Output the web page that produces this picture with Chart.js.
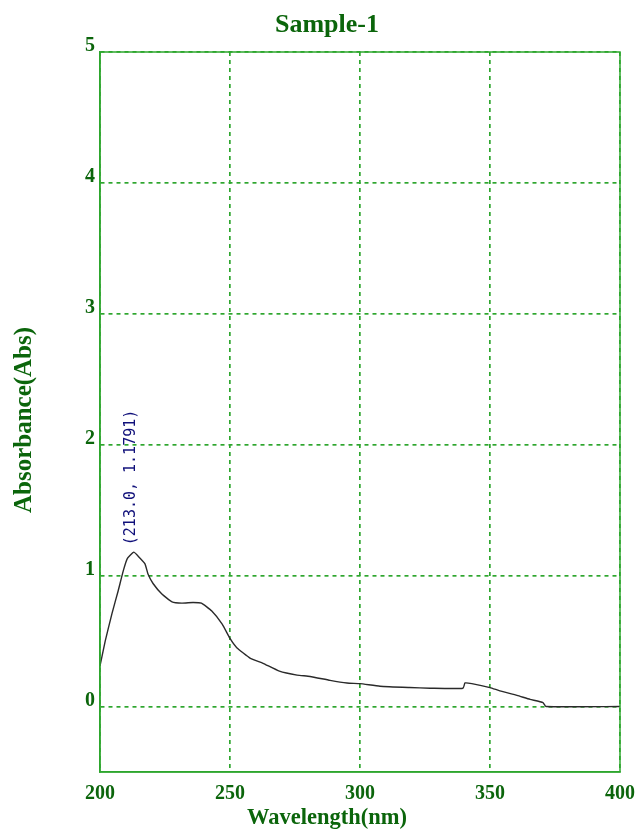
<!DOCTYPE html>
<html>
<head>
<meta charset="utf-8">
<title>Sample-1</title>
<script src="https://cdn.jsdelivr.net/npm/chart.js@4/dist/chart.umd.min.js"></script>
<style>
    html, body { margin: 0; padding: 0; background: #fff; }
    #wrap { width: 638px; height: 831px; position: relative; }
</style>
</head>
<body>
<div id="wrap"><canvas id="spectrum"></canvas></div>
<script>
// Spectrum (nm, Abs)
const wavelengths = [200, 202, 204.6, 207, 209, 210.5, 213, 214.6, 217.3, 218.5, 220.4, 223.8,
    227.7, 231.5, 235.8, 239, 243, 247, 250, 252.6, 257.7, 262.7, 269, 275.8, 280.8,
    288.5, 295, 300, 307.7, 319, 327, 339.6, 340.4, 343, 350, 353.8, 360.4, 365.4, 370.4,
    371.5, 400];
const absorbance = [0.31, 0.50, 0.71, 0.885, 1.04, 1.13, 1.1791, 1.15, 1.09, 1.01, 0.94, 0.86,
    0.80, 0.79, 0.795, 0.79, 0.73, 0.63, 0.52, 0.45, 0.37, 0.33, 0.27, 0.24, 0.23,
    0.20, 0.18, 0.175, 0.155, 0.145, 0.14, 0.14, 0.18, 0.175, 0.145, 0.12, 0.085, 0.055, 0.03,
    0.0, 0.0];

const xTicks = [200, 250, 300, 350, 400];
const yTicks = [0, 1, 2, 3, 4, 5];
const peak = { x: 213.0, y: 1.1791 };

const chartTitle = 'Sample-1';
const xTitle = 'Wavelength(nm)';
const yTitle = 'Absorbance(Abs)';

const GREEN_TEXT = '#0b650b';
const GREEN_GRID = '#2ea62e';
const SERIF = '"Liberation Serif", "DejaVu Serif", serif';

// Frame, title, axis titles and peak label, placed like the instrument print
const labelsPlugin = {
    id: 'labels',
    afterDatasetsDraw(chart) {
        const ctx = chart.ctx;
        const a = chart.chartArea;
        ctx.save();
        ctx.strokeStyle = GREEN_GRID;
        ctx.lineWidth = 1.5;
        ctx.strokeRect(a.left, a.top, a.right - a.left, a.bottom - a.top);
        ctx.restore();
    },
    afterDraw(chart) {
        const ctx = chart.ctx;
        const xs = chart.scales.x;
        const ys = chart.scales.y;
        ctx.save();
        ctx.fillStyle = GREEN_TEXT;
        ctx.textAlign = 'center';
        ctx.textBaseline = 'middle';

        ctx.font = 'bold 26px ' + SERIF;
        ctx.fillText(chartTitle, 327, 25);

        ctx.font = 'bold 22.5px ' + SERIF;
        ctx.fillText(xTitle, 327, 818);

        ctx.save();
        ctx.translate(25, 420);
        ctx.rotate(-Math.PI / 2);
        ctx.font = 'bold 25px ' + SERIF;
        ctx.fillText(yTitle, 0, 0);
        ctx.restore();

        // peak annotation
        const px = xs.getPixelForValue(peak.x);
        const py = ys.getPixelForValue(peak.y);
        ctx.save();
        ctx.translate(px - 3, py - 7);
        ctx.rotate(-Math.PI / 2);
        ctx.fillStyle = '#10107a';
        ctx.font = '15px "DejaVu Sans Mono", "Liberation Mono", monospace';
        ctx.textAlign = 'left';
        ctx.fillText('(' + peak.x.toFixed(1) + ', ' + peak.y.toFixed(4) + ')', 0, 0);
        ctx.restore();

        ctx.restore();
    }
};

const points = wavelengths.map((w, i) => ({ x: w, y: absorbance[i] }));

new Chart(document.getElementById('spectrum'), {
    type: 'line',
    data: {
        datasets: [{
            data: points,
            borderColor: '#2a2a2a',
            borderWidth: 1.4,
            pointRadius: 0,
            tension: 0.15,
            fill: false
        }]
    },
    options: {
        responsive: true,
        maintainAspectRatio: false,
        animation: false,
        layout: { padding: { top: 52, right: 18, left: 0, bottom: 0 } },
        plugins: {
            legend: { display: false },
            tooltip: { enabled: false },
            title: { display: false }
        },
        scales: {
            x: {
                type: 'linear',
                min: 200,
                max: 400,
                afterBuildTicks: s => { s.ticks = xTicks.map(v => ({ value: v })); },
                afterFit: s => { s.height = 59; s.paddingLeft = 0; s.paddingRight = 0; },
                grid: {
                    color: GREEN_GRID,
                    lineWidth: 1.7,
                    drawTicks: false
                },
                border: { display: true, color: GREEN_GRID, width: 1.5, dash: [4, 4] },
                ticks: {
                    padding: 10,
                    color: GREEN_TEXT,
                    font: { family: SERIF, size: 20, weight: 'bold' },
                    maxRotation: 0
                }
            },
            y: {
                min: -0.5,
                max: 5,
                afterBuildTicks: s => { s.ticks = yTicks.map(v => ({ value: v })); },
                afterFit: s => { s.width = 100; },
                grid: {
                    color: GREEN_GRID,
                    lineWidth: 1.7,
                    drawTicks: false
                },
                border: { display: true, color: GREEN_GRID, width: 1.5, dash: [4, 4] },
                ticks: {
                    padding: 5,
                    labelOffset: -6,
                    color: GREEN_TEXT,
                    font: { family: SERIF, size: 20, weight: 'bold' }
                }
            }
        }
    },
    plugins: [labelsPlugin]
});
</script>
</body>
</html>
